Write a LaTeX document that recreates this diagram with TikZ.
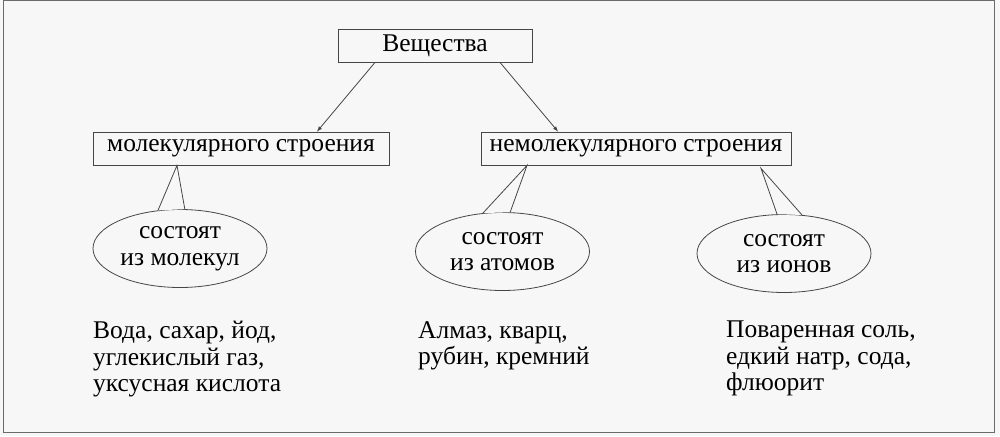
\documentclass[tikz,border=0pt]{standalone}
\usepackage{fontspec}
\setmainfont{Liberation Serif}
\usetikzlibrary{arrows}
\usetikzlibrary{shapes.geometric}
\usetikzlibrary{positioning}

\definecolor{linegray}{RGB}{70,70,70}
\definecolor{paper}{RGB}{247,247,247}

\tikzset{
  kindbox/.style={draw=linegray,line width=0.8pt,inner sep=0pt,minimum height=33pt},
  bubble/.style={ellipse,draw=linegray,line width=0.8pt,align=center,inner sep=0pt,
    minimum width=174pt,minimum height=78pt},
  tail/.style={draw=linegray,fill=paper,line width=0.8pt,line join=miter},
  examples/.style={align=left,anchor=north west,inner sep=0pt}
}

\begin{document}
\begin{tikzpicture}[x=1pt,y=-1pt,font=\fontsize{25.5}{26.5}\selectfont,>=latex]
  \useasboundingbox (0,0) rectangle (1000,436);
  \fill[paper] (0,0) rectangle (1000,436);
  \draw[linegray!80,line width=1pt] (3,1) rectangle (994,432);
  \node[kindbox,minimum width=194pt] (subst) at (435,45.5) {Вещества};
  \node[kindbox,minimum width=296pt] (mol) at (241,148.5) {молекулярного строения};
  \node[kindbox,minimum width=310pt] (nonmol) at (636,148.5) {немолекулярного строения};
  \draw[->,linegray,line width=0.8pt] ([xshift=-60pt]subst.south) -- ([xshift=76pt]mol.north);
  \draw[->,linegray,line width=0.8pt] ([xshift=65pt]subst.south) -- ([xshift=-78pt]nonmol.north);
  \node[bubble] (molec) at (180,248.5) {состоят\\из молекул};
  \node[bubble] (atoms) at (502.5,251.5) {состоят\\из атомов};
  \node[bubble] (ions) at (784,253.5) {состоят\\из ионов};
  % tails of the speech bubbles
  \coordinate (molapex) at ([xshift=-64pt]mol.south);
  \coordinate (atomapex) at ([xshift=-109pt]nonmol.south);
  \coordinate (ionapex) at ([xshift=125pt,yshift=-3pt]nonmol.south);
  \filldraw[tail] (molec.120) -- (molapex) -- (molec.83);
  \filldraw[tail] (atoms.117) -- (atomapex) -- (atoms.79);
  \filldraw[tail] (ions.100) -- (ionapex) -- (ions.65);
  \node[examples] (molex) at (93,321) {Вода, сахар, йод,\\углекислый газ,\\уксусная кислота};
  \node[examples] (atomex) at (418,321) {Алмаз, кварц,\\рубин, кремний};
  \node[examples] (ionex) at (726,321) {Поваренная соль,\\едкий натр, сода,\\флюорит};
\end{tikzpicture}
\end{document}
